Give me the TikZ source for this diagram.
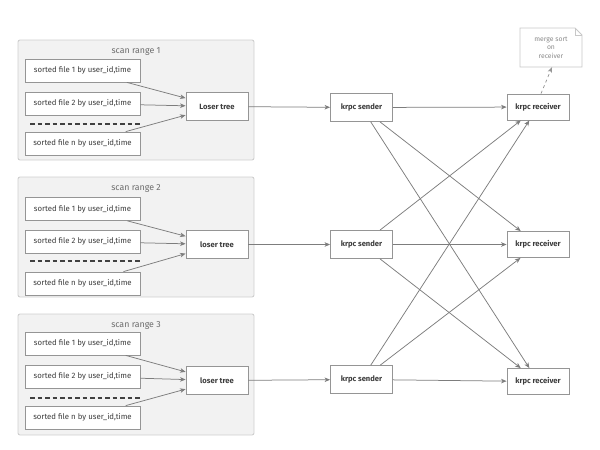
\documentclass[tikz,border=0pt]{standalone}
\usepackage{fontspec}
\setmainfont{Fira Sans}
\usetikzlibrary{arrows.meta,calc}
\definecolor{rangefill}{HTML}{F2F2F2}
\definecolor{rangeline}{HTML}{CFCFCF}
\definecolor{boxline}{HTML}{959595}
\definecolor{arrline}{HTML}{7D7D7D}
\definecolor{txt}{HTML}{3C3C3C}
\definecolor{notetxt}{HTML}{8A8A8A}
\definecolor{noteline}{HTML}{C8C8C8}
\begin{document}
\begin{tikzpicture}[x=1pt,y=-1pt,
  rangebox/.style={draw=rangeline,fill=rangefill,rounded corners=2pt,line width=0.9pt},
  rangelabel/.style={text=gray!85!black,font=\fontsize{8.8}{10}\selectfont,inner sep=0pt},
  filebox/.style={draw=boxline,fill=white,minimum width=115pt,minimum height=23pt,inner sep=0pt,text=txt,font=\fontsize{7.8}{9}\selectfont,line width=0.8pt},
  proc/.style={draw=boxline,fill=white,minimum width=62pt,minimum height=28pt,inner sep=0pt,text=txt,font=\fontsize{7.6}{9}\selectfont\bfseries,line width=0.8pt},
  recv/.style={proc,minimum height=26pt},
  arr/.style={draw=arrline,line width=0.75pt,-{Stealth[length=5.5pt,width=4.5pt,inset=1.5pt]}},
  sepline/.style={draw=black!75,line width=1.2pt,dash pattern=on 4.5pt off 3pt},
  notetext/.style={text=notetxt,font=\fontsize{6.8}{8.4}\selectfont,align=center,minimum width=62pt,minimum height=39pt,inner sep=0pt}
]
\useasboundingbox (0,0) rectangle (600,450);

% scan ranges
\draw[rangebox] (18,40) rectangle (254,160);
\draw[rangebox] (18,177) rectangle (254,297);
\draw[rangebox] (18,314) rectangle (254,435);
\node[rangelabel] (t1) at (136,51) {scan range 1};
\node[rangelabel] (t2) at (136,188) {scan range 2};
\node[rangelabel] (t3) at (136,325) {scan range 3};

% files range 1
\node[filebox] (a1) at (82.5,70.5) {sorted file 1 by user\_id,time};
\node[filebox] (a2) at (82.5,103.5) {sorted file 2 by user\_id,time};
\node[filebox] (an) at (82.5,143.5) {sorted file n by user\_id,time};
\coordinate (da1) at (30,124); \coordinate (da2) at (140,124);
\draw[sepline] (da1) -- (da2);
\node[proc] (l1) at (217,106.5) {Loser tree};

% files range 2
\node[filebox] (b1) at (82.5,209) {sorted file 1 by user\_id,time};
\node[filebox] (b2) at (82.5,241.5) {sorted file 2 by user\_id,time};
\node[filebox] (bn) at (82.5,283.5) {sorted file n by user\_id,time};
\coordinate (db1) at (30,261); \coordinate (db2) at (140,261);
\draw[sepline] (db1) -- (db2);
\node[proc] (l2) at (217,244.5) {loser tree};

% files range 3
\node[filebox] (c1) at (82.5,343.5) {sorted file 1 by user\_id,time};
\node[filebox] (c2) at (82.5,376.5) {sorted file 2 by user\_id,time};
\node[filebox] (cn) at (82.5,417.5) {sorted file n by user\_id,time};
\coordinate (dc1) at (30,398); \coordinate (dc2) at (140,398);
\draw[sepline] (dc1) -- (dc2);
\node[proc] (l3) at (217,380.5) {loser tree};

% senders and receivers
\node[proc] (s1) at (361.5,107.5) {krpc sender};
\node[proc] (s2) at (361.5,244.5) {krpc sender};
\node[proc] (s3) at (361.5,379.5) {krpc sender};
\node[recv] (r1) at (538,107) {krpc receiver};
\node[recv] (r2) at (538,244.5) {krpc receiver};
\node[recv] (r3) at (538,381.5) {krpc receiver};

% note
\coordinate (nc) at (551,47.5);
\draw[draw=noteline,line width=0.9pt,fill=white]
  (520,28) -- (575,28) -- (582,35) -- (582,67) -- (520,67) -- cycle;
\draw[draw=noteline,line width=0.9pt] (575,28) -- (575,35) -- (582,35);
\node[notetext] (note) at (nc) {merge sort\\on\\receiver};

% arrows files -> loser trees
\foreach \f in {a1,a2,an} \draw[arr] (\f) -- (l1);
\foreach \f in {b1,b2,bn} \draw[arr] (\f) -- (l2);
\foreach \f in {c1,c2,cn} \draw[arr] (\f) -- (l3);

% loser -> sender
\draw[arr] (l1) -- (s1);
\draw[arr] (l2) -- (s2);
\draw[arr] (l3) -- (s3);

% sender -> receivers
\foreach \s in {s1,s2,s3}
  \foreach \r in {r1,r2,r3}
    \draw[arr] (\s) -- (\r);

% receiver -> note
\draw[arr,dashed,draw=arrline!80] ($(r1.north)+(3,0)$) -- ($(note.south)+(1,0)$);
\end{tikzpicture}
\end{document}
